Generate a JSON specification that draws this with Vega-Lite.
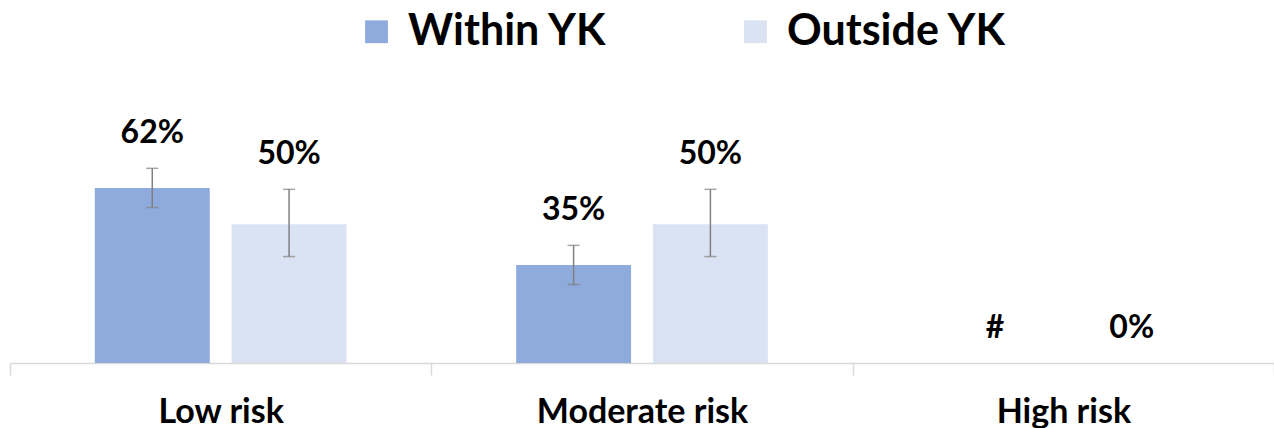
{
  "$schema": "https://vega.github.io/schema/vega-lite/v6.json",
  "width": 1264,
  "height": 363,
  "autosize": {"type": "none"},
  "padding": {"left": 10, "top": 0, "right": 0, "bottom": 65},
  "background": "white",
  "config": {"view": {"stroke": null}, "font": "Lato"},
  "data": {
    "values": [
      {"risk": "Low risk", "group": "Within YK", "value": 0.625, "lo": 0.555, "hi": 0.695, "label": "62%"},
      {"risk": "Low risk", "group": "Outside YK", "value": 0.495, "lo": 0.38, "hi": 0.62, "label": "50%"},
      {"risk": "Moderate risk", "group": "Within YK", "value": 0.35, "lo": 0.28, "hi": 0.42, "label": "35%"},
      {"risk": "Moderate risk", "group": "Outside YK", "value": 0.495, "lo": 0.38, "hi": 0.62, "label": "50%"},
      {"risk": "High risk", "group": "Within YK", "value": 0, "lo": 0, "hi": 0, "label": "#"},
      {"risk": "High risk", "group": "Outside YK", "value": 0, "lo": 0, "hi": 0, "label": "0%"}
    ]
  },
  "encoding": {
    "x": {
      "field": "risk", "type": "nominal", "sort": ["Low risk", "Moderate risk", "High risk"],
      "scale": {"paddingInner": 0, "paddingOuter": 0},
      "axis": {
        "title": null, "labelAngle": 0, "labelFont": "Lato", "labelFontSize": 34, "labelFontWeight": "bold",
        "labelColor": "black", "domainColor": "#d9d9d9", "domainWidth": 1.5, "tickColor": "#d9d9d9", "tickWidth": 1.5,
        "tickSize": 12, "tickBand": "extent", "labelPadding": 20, "labelLimit": 400
      }
    },
    "xOffset": {
      "field": "group", "type": "nominal", "sort": ["Within YK", "Outside YK"],
      "scale": {"paddingInner": 0.16, "paddingOuter": 0.62}
    }
  },
  "layer": [
    {
      "mark": {"type": "bar"},
      "encoding": {
        "y": {"field": "value", "type": "quantitative", "scale": {"domain": [0, 1.296], "nice": false, "zero": true}, "axis": null},
        "color": {
          "field": "group", "type": "nominal",
          "scale": {"domain": ["Within YK", "Outside YK"], "range": ["#8faadc", "#dae3f3"]},
          "legend": {
            "orient": "none", "legendX": 345, "legendY": 10, "direction": "horizontal", "title": null,
            "symbolType": "square", "symbolSize": 520, "symbolStrokeWidth": 0,
            "labelFont": "Lato", "labelFontSize": 43, "labelFontWeight": "bold", "labelColor": "black",
            "labelOffset": 10, "columnPadding": 126, "labelLimit": 400
          }
        }
      }
    },
    {
      "transform": [{"filter": "datum.hi > 0"}],
      "mark": {"type": "rule", "color": "#808080", "strokeWidth": 1.5},
      "encoding": {
        "y": {"field": "lo", "type": "quantitative"},
        "y2": {"field": "hi"}
      }
    },
    {
      "transform": [{"filter": "datum.hi > 0"}],
      "mark": {"type": "tick", "color": "#808080", "thickness": 1.5, "size": 12},
      "encoding": {"y": {"field": "lo", "type": "quantitative"}}
    },
    {
      "transform": [{"filter": "datum.hi > 0"}],
      "mark": {"type": "tick", "color": "#808080", "thickness": 1.5, "size": 12},
      "encoding": {"y": {"field": "hi", "type": "quantitative"}}
    },
    {
      "mark": {"type": "text", "font": "Lato", "fontSize": 32, "fontWeight": "bold", "color": "black", "baseline": "bottom", "dy": -18},
      "encoding": {
        "y": {"field": "hi", "type": "quantitative"},
        "text": {"field": "label", "type": "nominal"}
      }
    }
  ]
}
